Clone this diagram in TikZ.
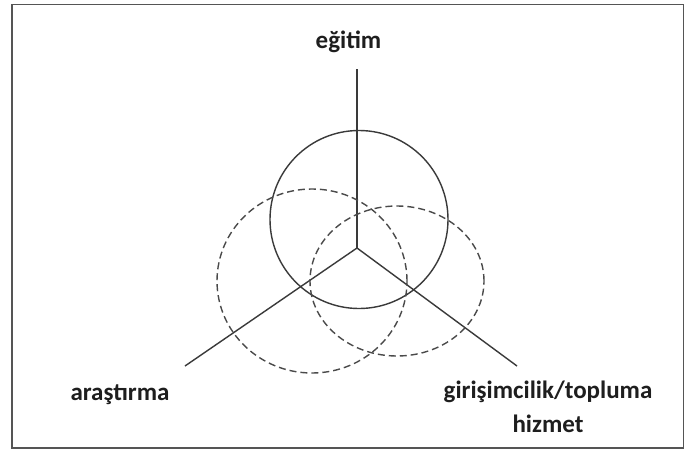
\documentclass[tikz,border=0pt]{standalone}
\usepackage{fontspec}
\setmainfont{Carlito}
\definecolor{linegray}{HTML}{3A3A3A}
\definecolor{dashgray}{HTML}{4A4A4A}
\definecolor{framegray}{HTML}{555555}
\definecolor{textdark}{HTML}{1E1E1E}
\tikzset{
  frameline/.style={draw=framegray, line width=1.4pt},
  axisline/.style={draw=linegray, line width=1.4pt},
  solidring/.style={draw=linegray, line width=1.4pt},
  dashring/.style={draw=dashgray, line width=1.4pt, dash pattern=on 7pt off 4pt},
  label/.style={text=textdark, font=\bfseries\fontsize{25}{30}\selectfont, inner sep=0pt, anchor=base}
}
\begin{document}
\begin{tikzpicture}[x=1pt, y=-1pt]
  \useasboundingbox (0,0) rectangle (688,450);
  \fill[white] (0,0) rectangle (688,450);
  \draw[frameline] (12,4.5) rectangle (683.5,448);

  % Y axes
  \coordinate (hub) at (357,248);
  \coordinate (topend) at (357,69);
  \coordinate (leftend) at (185,366);
  \coordinate (rightend) at (517,366);
  \draw[axisline] (hub) -- (topend);
  \draw[axisline] (hub) -- (leftend);
  \draw[axisline] (hub) -- (rightend);

  % circles
  \coordinate (ctop) at (359,219.5);
  \coordinate (cleft) at (312,281);
  \coordinate (cright) at (397,281);
  \draw[solidring] (ctop) circle[radius=89pt];
  \draw[dashring] (cleft) ellipse[x radius=95pt, y radius=92pt];
  \draw[dashring] (cright) ellipse[x radius=87pt, y radius=75pt];

  % labels
  \node[label] (egitim) at (348.5,48) {eğitim};
  \node[label] (arastirma) at (120,400) {araştırma};
  \node[label] (girisim) at (548,398) {girişimcilik/topluma};
  \node[label] (hizmet) at (548,432) {hizmet};
\end{tikzpicture}
\end{document}
